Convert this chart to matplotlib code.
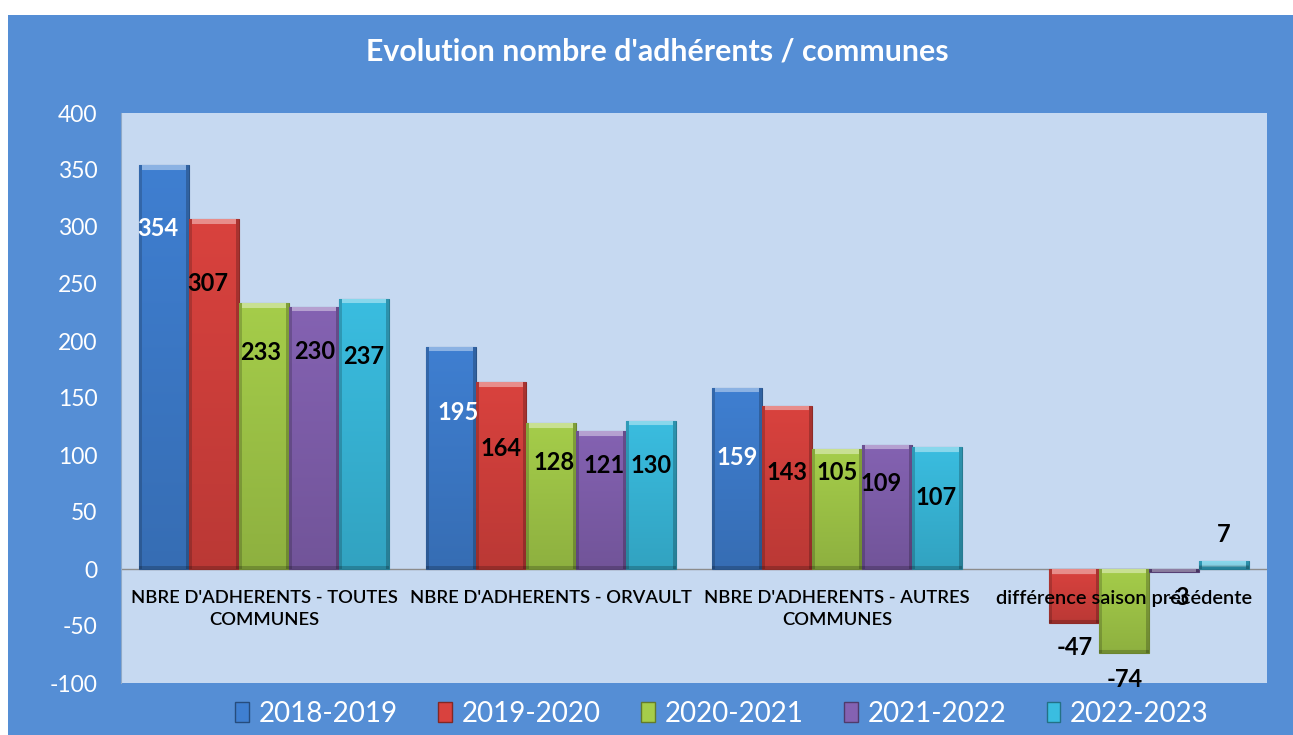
"""
Evolution nombre d'adhérents / communes
"""

import numpy as np
import matplotlib.pyplot as plt
import matplotlib.colors as mcolors
from matplotlib.patches import Rectangle, Patch

plt.rcParams['font.family'] = ['Lato', 'DejaVu Sans']
plt.rcParams['axes.unicode_minus'] = False

# ==========================
# données
# ==========================
categories = ["NBRE D'ADHERENTS - TOUTES\nCOMMUNES",
              "NBRE D'ADHERENTS - ORVAULT",
              "NBRE D'ADHERENTS - AUTRES\nCOMMUNES",
              "différence saison précédente"]
seasons = ["2018-2019", "2019-2020", "2020-2021", "2021-2022", "2022-2023"]

s2018_2019 = [354, 195, 159, np.nan]
s2019_2020 = [307, 164, 143, -47]
s2020_2021 = [233, 128, 105, -74]
s2021_2022 = [230, 121, 109, -3]
s2022_2023 = [237, 130, 107, 7]

series = [s2018_2019, s2019_2020, s2020_2021, s2021_2022, s2022_2023]

# ==========================
# style
# ==========================
colors = ["#3F7FD1", "#D9423E", "#A5CD4A", "#8462B2", "#3ABDE0"]
label_colors = ["white", "black", "black", "black", "black"]
cat_sizes = [13.2, 13.2, 13.2, 14.4]

# décalage des étiquettes (unités de données en y, pixels en x)
label_dy = [[-55, -58, -61, 0], [-57, -58, -58, -22], [-43, -35, -20, -23],
            [-39, -30, -34, -22], [-51, -39, -44, 23]]
label_dx = [[-6, 7, 0, 0], [-6, 0, 0, 1], [-4, 3, 0, 1],
            [0, 3, -6, 5], [-1, 0, -1, 0]]

W, H = 1293, 735
fig = plt.figure(figsize=(W / 100, H / 100), dpi=100)
fig.patch.set_facecolor("white")
fig.add_artist(Rectangle((8 / W, 0), 1, 720 / H, transform=fig.transFigure,
                         facecolor="#558ED5", edgecolor="none", zorder=0))

ax = fig.add_axes([121 / W, 52 / H, 1146 / W, 570 / H])
ax.set_facecolor("#C6D9F1")
px_per_unit = 570 / 500


def shaded_image(color, nrows, ncols=50):
    base = np.array(mcolors.to_rgb(color))
    img = np.ones((nrows, ncols, 3)) * base
    vert = np.linspace(1.0, 0.86, nrows)[:, None, None]
    img = img * vert
    img[:, :3] *= 0.82
    img[:, -3:] *= 0.78
    top = min(5, nrows)
    img[:top, 3:-3] = img[:top, 3:-3] * 0.6 + 0.4
    img[-3:] *= 0.8
    return np.clip(img, 0, 1)


x = np.arange(len(categories))
w = 50 / 286.5
for i, vals in enumerate(series):
    pos = x + (i - 2) * w
    dark = np.array(mcolors.to_rgb(colors[i])) * 0.65
    bars = ax.bar(pos, vals, w, color=colors[i], edgecolor=dark,
                  linewidth=0.8, zorder=2)
    for j, (rect, v) in enumerate(zip(bars, vals)):
        if np.isnan(v):
            continue
        x0 = rect.get_x()
        y_lo, y_hi = min(0, v), max(0, v)
        nrows = max(int(abs(v) * px_per_unit), 3)
        im = ax.imshow(shaded_image(colors[i], nrows), aspect="auto",
                       extent=(x0, x0 + w, y_lo, y_hi), origin="upper",
                       zorder=2.1, interpolation="bilinear")
        im.set_clip_path(rect)
        ax.annotate(f"{v:.0f}", xy=(pos[j], v + label_dy[i][j]),
                    xytext=(label_dx[i][j] * 0.72, 0), textcoords="offset points",
                    ha="center", va="center", fontsize=17, fontweight="bold",
                    color=label_colors[i], zorder=6)

ax.axhline(0, color="#8C8C8C", lw=1, zorder=1.5)

for k, cat in enumerate(categories):
    ax.annotate(cat, xy=(k, 0), xytext=(0, -15), textcoords="offset points",
                ha="center", va="top", fontsize=cat_sizes[k], color="black",
                fontweight="semibold", linespacing=1.5, zorder=7)

ax.set_xlim(-0.5, len(categories) - 0.5)
ax.set_ylim(-100, 400)
ax.set_yticks(range(-100, 401, 50))
ax.set_xticks([])
ax.tick_params(axis="y", length=0, pad=17, labelsize=16.5, labelcolor="white")
for side in ["top", "right", "bottom"]:
    ax.spines[side].set_visible(False)
ax.spines["left"].set_color("#8EA9C8")

fig.text(657 / W, 1 - 52 / H, "Evolution nombre d'adhérents / communes",
         color="white", fontsize=21.8, fontweight="bold", ha="center", va="center")

handles = [Patch(facecolor=c, edgecolor=np.array(mcolors.to_rgb(c)) * 0.6)
           for c in colors]
fig.legend(handles, seasons, loc="center", bbox_to_anchor=(722 / W, 1 - 714 / H),
           ncol=5, frameon=False, fontsize=20, labelcolor="white",
           handlelength=0.5, handleheight=0.75, handletextpad=0.35,
           columnspacing=1.45)

fig.savefig("out.png", dpi=100)
plt.close()
